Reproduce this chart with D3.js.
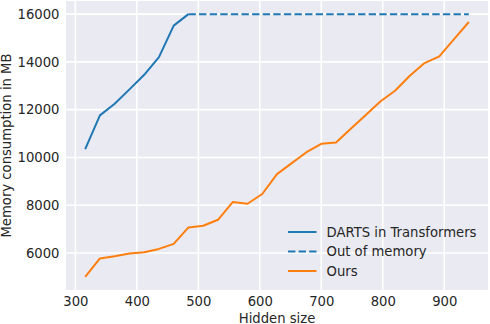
<!DOCTYPE html>
<html>
<head>
<meta charset="utf-8">
<script src="https://cdn.jsdelivr.net/npm/d3@7"></script>
<style>
  body { margin: 0; background: #fff; }
  svg text { font-family: "DejaVu Sans", sans-serif; fill: #262626; }
</style>
</head>
<body>
<svg class="canvas"></svg>
<script>
// *** DATA ***
var hiddenSizes = [316, 340, 364, 388, 412, 436, 460, 484, 508, 532, 556, 580, 604,
  628, 652, 676, 700, 724, 748, 772, 796, 820, 844, 868, 892, 916, 940];

// DARTS runs until it hits the memory ceiling at 484
var dartsSizes = [316, 340, 364, 388, 412, 436, 460, 484];
var dartsMemory = [10350, 11760, 12250, 12850, 13460, 14200, 15520, 16000];

var oomSizes = [484, 940];
var oomMemory = [16000, 16000];

var oursMemory = [5000, 5770, 5860, 5980, 6030, 6170, 6380, 7070, 7140, 7390, 8130, 8060, 8470,
  9300, 9760, 10220, 10570, 10630, 11200, 11770, 12340, 12790, 13420, 13950, 14230, 14950, 15670];

var xTicks = [300, 400, 500, 600, 700, 800, 900];
var yTicks = [6000, 8000, 10000, 12000, 14000, 16000];

var legendItems = [
  { label: "DARTS in Transformers", color: "#1f77b4", dash: null },
  { label: "Out of memory", color: "#1f77b4", dash: "7.4,3.2" },
  { label: "Ours", color: "#ff7f0e", dash: null }
];

// *** SVG ***
var width = 490;
var height = 324;
var plot = { left: 66, right: 488, top: 1, bottom: 290 };
var fontSize = 13.2;

// matplotlib style 5% padding around the data
function padded(extent) {
  var pad = (extent[1] - extent[0]) * 0.05;
  return [extent[0] - pad, extent[1] + pad];
}

var allMemory = dartsMemory.concat(oomMemory, oursMemory);

var x = d3.scaleLinear()
  .domain(padded(d3.extent(hiddenSizes)))
  .range([plot.left, plot.right]);

var y = d3.scaleLinear()
  .domain(padded(d3.extent(allMemory)))
  .range([plot.bottom, plot.top]);

var svg = d3.select(".canvas")
  .attr("width", width)
  .attr("height", height);

svg.append("rect")
  .attr("x", plot.left)
  .attr("y", plot.top)
  .attr("width", plot.right - plot.left)
  .attr("height", plot.bottom - plot.top)
  .attr("fill", "#eaeaf2");

// grid
svg.append("g").selectAll("line")
  .data(xTicks)
  .enter().append("line")
    .attr("x1", function(d) { return x(d); })
    .attr("x2", function(d) { return x(d); })
    .attr("y1", plot.top)
    .attr("y2", plot.bottom)
    .attr("stroke", "#fff")
    .attr("stroke-width", 1.6);

svg.append("g").selectAll("line")
  .data(yTicks)
  .enter().append("line")
    .attr("x1", plot.left)
    .attr("x2", plot.right)
    .attr("y1", function(d) { return y(d); })
    .attr("y2", function(d) { return y(d); })
    .attr("stroke", "#fff")
    .attr("stroke-width", 1.6);

// axes (no ticks, no spines)
var xAxis = svg.append("g")
  .attr("transform", "translate(0," + plot.bottom + ")")
  .call(d3.axisBottom(x).tickValues(xTicks).tickSize(0).tickPadding(7));

var yAxis = svg.append("g")
  .attr("transform", "translate(" + plot.left + ",0)")
  .call(d3.axisLeft(y).tickValues(yTicks).tickFormat(d3.format("d")).tickSize(0).tickPadding(6.5));

[xAxis, yAxis].forEach(function(ax) {
  ax.select(".domain").remove();
  ax.selectAll("text")
    .attr("font-size", fontSize)
    .attr("font-family", "DejaVu Sans, sans-serif")
    .attr("fill", "#262626");
});
xAxis.selectAll("text").attr("dy", "0.71em");

svg.append("text")
  .attr("x", (plot.left + plot.right) / 2)
  .attr("y", 322.5)
  .attr("text-anchor", "middle")
  .attr("font-size", fontSize)
  .text("Hidden size");

svg.append("text")
  .attr("transform", "translate(10.5," + ((plot.top + plot.bottom) / 2) + ") rotate(-90)")
  .attr("text-anchor", "middle")
  .attr("font-size", fontSize)
  .text("Memory consumption in MB");

// lines
var line = d3.line()
  .x(function(d) { return x(d[0]); })
  .y(function(d) { return y(d[1]); });

function drawSeries(xs, ys, color, dash) {
  svg.append("path")
    .datum(d3.zip(xs, ys))
    .attr("d", line)
    .attr("fill", "none")
    .attr("stroke", color)
    .attr("stroke-width", 2)
    .attr("stroke-linejoin", "round")
    .attr("stroke-dasharray", dash);
}

drawSeries(dartsSizes, dartsMemory, "#1f77b4", null);
drawSeries(oomSizes, oomMemory, "#1f77b4", "7.4,3.2");
drawSeries(hiddenSizes, oursMemory, "#ff7f0e", null);

// legend
var legend = svg.append("g").selectAll("g")
  .data(legendItems)
  .enter().append("g")
    .attr("transform", function(d, i) { return "translate(288," + (232 + i * 19.5) + ")"; });

legend.append("line")
  .attr("x1", 0)
  .attr("x2", 28.5)
  .attr("stroke", function(d) { return d.color; })
  .attr("stroke-width", 2)
  .attr("stroke-dasharray", function(d) { return d.dash; });

legend.append("text")
  .attr("x", 38.5)
  .attr("dy", "0.36em")
  .attr("font-size", fontSize)
  .text(function(d) { return d.label; });
</script>
</body>
</html>
